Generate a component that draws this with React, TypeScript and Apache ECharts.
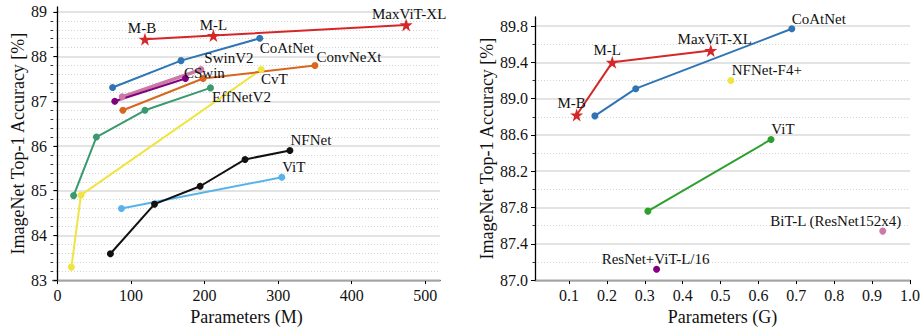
import React, { useEffect, useRef } from 'react';
import * as echarts from 'echarts';

// ---------- Left panel: Parameters (M) vs Top-1 accuracy ----------
const maxvitParamsM = [119, 212, 474];
const maxvitAccM = [88.39, 88.47, 88.71];
const coatnetParamsM = [75, 168, 275];
const coatnetAccM = [87.31, 87.91, 88.41];
const swinv2ParamsM = [88, 195];
const swinv2AccM = [87.1, 87.71];
const cswinParamsM = [78, 174];
const cswinAccM = [87.0, 87.51];
const convnextParamsM = [89, 198, 350];
const convnextAccM = [86.8, 87.51, 87.8];
const effnetParamsM = [22, 53, 119, 208];
const effnetAccM = [84.89, 86.2, 86.8, 87.3];
const cvtParamsM = [19, 32, 277];
const cvtAccM = [83.29, 84.9, 87.71];
const nfnetParamsM = [72, 132, 194, 255, 316];
const nfnetAccM = [83.59, 84.7, 85.1, 85.7, 85.9];
const vitParamsM = [87, 305];
const vitAccM = [84.6, 85.3];

const leftXTicks = [0, 100, 200, 300, 400, 500];
const leftYTicks = [83, 84, 85, 86, 87, 88, 89];

// ---------- Right panel: Parameters (G) vs Top-1 accuracy ----------
const maxvitParamsG = [0.12, 0.214, 0.474];
const maxvitAccG = [88.82, 89.4, 89.53];
const coatnetParamsG = [0.168, 0.276, 0.688];
const coatnetAccG = [88.81, 89.11, 89.77];
const nfnetF4ParamsG = [0.527];
const nfnetF4AccG = [89.2];
const vitParamsG = [0.308, 0.633];
const vitAccG = [87.76, 88.55];
const resnetVitParamsG = [0.331];
const resnetVitAccG = [87.12];
const bitParamsG = [0.928];
const bitAccG = [87.54];

const rightXTicks = [0.1, 0.2, 0.3, 0.4, 0.5, 0.6, 0.7, 0.8, 0.9, 1.0];
const rightYTicks = [87.0, 87.4, 87.8, 88.2, 88.6, 89.0, 89.4, 89.8];

const FONT = 'Liberation Serif';
const TEXT = '#111111';

const midpoints = (ticks: number[], parts: number) => {
  const out: number[] = [];
  for (let i = 0; i < ticks.length - 1; i++) {
    const step = (ticks[i + 1] - ticks[i]) / parts;
    for (let k = 1; k < parts; k++) out.push(+(ticks[i] + k * step).toFixed(3));
  }
  return out;
};

type LabelSpec = { idx: number; text: string; dx: number; dy: number };

function mkSeries(
  xs: number[],
  ys: number[],
  color: string,
  axis: number,
  labels: LabelSpec[],
  opts: { symbol?: string; symbolSize?: number; width?: number; z?: number } = {}
) {
  return {
    type: 'line',
    xAxisIndex: axis,
    yAxisIndex: axis * 2,
    z: opts.z ?? 2,
    symbol: opts.symbol ?? 'circle',
    symbolSize: opts.symbolSize ?? 7,
    showSymbol: true,
    lineStyle: { color, width: opts.width ?? 2 },
    itemStyle: { color, borderWidth: 0 },
    emphasis: { disabled: true },
    label: { show: false },
    data: xs.map((x, i) => {
      const l = labels.find((s) => s.idx === i);
      const item: any = { value: [x, ys[i]] };
      if (l) {
        item.label = {
          show: true,
          position: 'inside',
          formatter: l.text,
          offset: [l.dx, l.dy],
          color: TEXT,
          fontFamily: FONT,
          fontSize: 15,
          lineHeight: 15,
          align: 'center',
          verticalAlign: 'middle',
        };
      }
      return item;
    }),
  };
}

const STAR =
  'path://M50,0 L61.8,35.1 L98.1,35.1 L68.7,56.7 L79.4,91.9 L50,70 L20.6,91.9 L31.3,56.7 L1.9,35.1 L38.2,35.1 Z';

export default function App() {
  const ref = useRef<HTMLDivElement>(null);

  useEffect(() => {
    if (!ref.current) return;
    const chart = echarts.init(ref.current, undefined, { renderer: 'svg' });

    const axisLine = { show: true, lineStyle: { color: '#000', width: 1.3 } };
    const tickLbl = { fontFamily: FONT, fontSize: 16, color: TEXT };
    const majorSplit = { show: true, lineStyle: { color: '#dadada', width: 1.5, type: 'solid' } };
    const minorSplit = { show: true, lineStyle: { color: '#d4d4d4', width: 1, type: [1, 2] } };

    const leftMinor = midpoints(leftYTicks, 5);
    const rightMinor = midpoints(rightYTicks, 2);

    const option: any = {
      animation: false,
      backgroundColor: '#ffffff',
      textStyle: { fontFamily: FONT },
      grid: [
        { left: 53, top: 7, width: 387, height: 282 },
        { left: 535, top: 17, width: 375, height: 274 },
      ],
      xAxis: [
        {
          type: 'value',
          gridIndex: 0,
          min: -6,
          max: 520,
          axisLine,
          axisTick: { show: true, length: 4, customValues: leftXTicks, lineStyle: { color: '#000' } },
          axisLabel: { ...tickLbl, margin: 7, customValues: leftXTicks },
          splitLine: { show: false },
          name: 'Parameters (M)',
          nameLocation: 'middle',
          nameGap: 27,
          nameTextStyle: { fontFamily: FONT, fontSize: 18, color: TEXT, verticalAlign: 'top' },
        },
        {
          type: 'value',
          gridIndex: 1,
          min: 0.01,
          max: 1.0,
          axisLine,
          axisTick: { show: true, length: 4, customValues: rightXTicks, lineStyle: { color: '#000' } },
          axisLabel: {
            ...tickLbl,
            margin: 7,
            customValues: rightXTicks,
            formatter: (v: number) => v.toFixed(1),
          },
          splitLine: { show: false },
          name: 'Parameters (G)',
          nameLocation: 'middle',
          nameGap: 27,
          nameTextStyle: { fontFamily: FONT, fontSize: 18, color: TEXT, verticalAlign: 'top' },
        },
      ],
      yAxis: [
        {
          type: 'value',
          gridIndex: 0,
          position: 'left',
          min: 83,
          max: 89.11,
          axisLine,
          axisTick: { show: true, length: 4, customValues: leftYTicks, lineStyle: { color: '#000' } },
          axisLabel: { ...tickLbl, margin: 6, customValues: leftYTicks },
          splitLine: majorSplit,
          name: 'ImageNet Top-1 Accuracy [%]',
          nameLocation: 'middle',
          nameGap: 24,
          nameTextStyle: { fontFamily: FONT, fontSize: 18, color: TEXT },
          z: 1,
        },
        {
          type: 'value',
          gridIndex: 0,
          position: 'left',
          min: 83,
          max: 89.11,
          axisLine: { show: false },
          axisTick: { show: true, length: 2.5, customValues: leftMinor, lineStyle: { color: '#000', width: 0.8 } },
          axisLabel: { show: false },
          splitLine: minorSplit,
          z: 0,
        },
        {
          type: 'value',
          gridIndex: 1,
          position: 'left',
          min: 87.0,
          max: 89.9,
          axisLine,
          axisTick: { show: true, length: 4, customValues: rightYTicks, lineStyle: { color: '#000' } },
          axisLabel: {
            ...tickLbl,
            margin: 7,
            customValues: rightYTicks,
            formatter: (v: number) => v.toFixed(1),
          },
          splitLine: majorSplit,
          name: 'ImageNet Top-1 Accuracy [%]',
          nameLocation: 'middle',
          nameGap: 37,
          nameTextStyle: { fontFamily: FONT, fontSize: 18, color: TEXT },
          z: 1,
        },
        {
          type: 'value',
          gridIndex: 1,
          position: 'left',
          min: 87.0,
          max: 89.9,
          axisLine: { show: false },
          axisTick: { show: true, length: 2.5, customValues: rightMinor, lineStyle: { color: '#000', width: 0.8 } },
          axisLabel: { show: false },
          splitLine: minorSplit,
          z: 0,
        },
      ],
      series: [
        // left panel
        mkSeries(cvtParamsM, cvtAccM, '#f0e442', 0, [{ idx: 2, text: 'CvT', dx: 13, dy: 9 }]),
        mkSeries(vitParamsM, vitAccM, '#56b4e9', 0, [{ idx: 1, text: 'ViT', dx: 12, dy: -10 }]),
        mkSeries(nfnetParamsM, nfnetAccM, '#111111', 0, [{ idx: 4, text: 'NFNet', dx: 21, dy: -10 }]),
        mkSeries(effnetParamsM, effnetAccM, '#3a9a6f', 0, [{ idx: 3, text: 'EffNetV2', dx: 31, dy: 9 }]),
        mkSeries(convnextParamsM, convnextAccM, '#d8661f', 0, [{ idx: 2, text: 'ConvNeXt', dx: 34, dy: -9 }]),
        mkSeries(swinv2ParamsM, swinv2AccM, '#cc79a7', 0, [{ idx: 1, text: 'SwinV2', dx: 28, dy: -12 }], {
          width: 3.5,
        }),
        mkSeries(cswinParamsM, cswinAccM, '#800080', 0, [{ idx: 1, text: 'CSwin', dx: 19, dy: -6 }]),
        mkSeries(coatnetParamsM, coatnetAccM, '#2f75b4', 0, [{ idx: 2, text: 'CoAtNet', dx: 27, dy: 10 }]),
        mkSeries(
          maxvitParamsM,
          maxvitAccM,
          '#d62728',
          0,
          [
            { idx: 0, text: 'M-B', dx: -3, dy: -11 },
            { idx: 1, text: 'M-L', dx: 0, dy: -11 },
            { idx: 2, text: 'MaxViT-XL', dx: 3, dy: -11 },
          ],
          { symbol: STAR, symbolSize: 13, z: 5 }
        ),
        // right panel
        mkSeries(resnetVitParamsG, resnetVitAccG, '#800080', 1, [
          { idx: 0, text: 'ResNet+ViT-L/16', dx: -1, dy: -10 },
        ]),
        mkSeries(bitParamsG, bitAccG, '#cc79a7', 1, [{ idx: 0, text: 'BiT-L (ResNet152x4)', dx: -47, dy: -10 }]),
        mkSeries(vitParamsG, vitAccG, '#2ca02c', 1, [{ idx: 1, text: 'ViT', dx: 12, dy: -10 }]),
        mkSeries(nfnetF4ParamsG, nfnetF4AccG, '#f0e442', 1, [{ idx: 0, text: 'NFNet-F4+', dx: 36, dy: -11 }]),
        mkSeries(coatnetParamsG, coatnetAccG, '#2f75b4', 1, [{ idx: 2, text: 'CoAtNet', dx: 27, dy: -10 }]),
        mkSeries(
          maxvitParamsG,
          maxvitAccG,
          '#d62728',
          1,
          [
            { idx: 0, text: 'M-B', dx: -5, dy: -12 },
            { idx: 1, text: 'M-L', dx: -5, dy: -12 },
            { idx: 2, text: 'MaxViT-XL', dx: 4, dy: -12 },
          ],
          { symbol: STAR, symbolSize: 13, z: 5 }
        ),
      ],
    };

    chart.setOption(option);
    return () => chart.dispose();
  }, []);

  return (
    <div
      ref={ref}
      style={{ position: 'fixed', left: 0, top: 0, width: 923, height: 331, background: '#fff' }}
    />
  );
}
